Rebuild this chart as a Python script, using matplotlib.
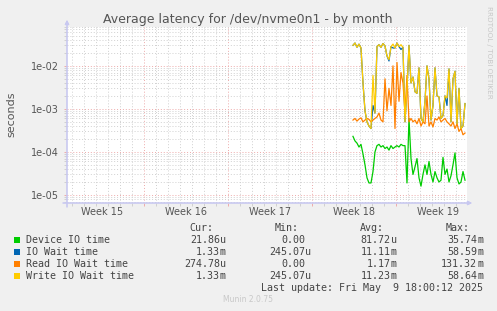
import numpy as np
import matplotlib.pyplot as plt
from matplotlib.patches import Rectangle
from matplotlib.ticker import FixedLocator, LogLocator, NullFormatter

W, H = 497, 311

# time axis in days from the left edge of the graph
t_start = 23.83
t_step = 1 / 6  # 4 hour samples
x_max = 33.33
week_lines = [6.42, 13.42, 20.42, 27.42]
week_labels = ["Week 15", "Week 16", "Week 17", "Week 18", "Week 19"]

# latency values in milliseconds
device_io = [0.23, 0.18, 0.16, 0.13, 0.15, 0.09, 0.05, 0.025, 0.019, 0.019,
             0.035, 0.1, 0.14, 0.15, 0.13, 0.14, 0.12, 0.13, 0.11, 0.14,
             0.12, 0.13, 0.14, 0.13, 0.15, 0.14, 0.14, 0.019, 0.6,
             0.07, 0.03, 0.045, 0.07, 0.025, 0.016, 0.03, 0.05, 0.03, 0.06,
             0.03, 0.02, 0.035, 0.025, 0.02, 0.022, 0.075, 0.03, 0.04, 0.02,
             0.028, 0.05, 0.095, 0.025, 0.018, 0.02, 0.035, 0.022]
io_wait = [30, 34, 27, 32, 26, 4, 0.9, 0.5, 0.4, 0.35,
           1.2, 0.8, 28, 31, 27, 33, 29, 17, 13, 28,
           26, 26, 34, 28, 24, 27, 0.5, 3, 30, 4,
           5.5, 2.5, 2.3, 9, 0.6, 0.5, 1.5, 10, 5, 0.55,
           1.2, 9, 2, 1.9, 0.6, 0.7, 2, 1.2, 8.5, 0.5,
           5, 7.5, 0.45, 3, 0.35, 0.4, 1.33]
read_wait = [0.55, 0.6, 0.52, 0.58, 0.62, 0.5, 0.55, 0.6, 0.57, 0.5,
             0.55, 0.6, 0.65, 0.8, 0.55, 0.5, 5, 0.9, 3, 1.2,
             10, 0.35, 12, 1.5, 7, 4, 0.8, 6, 0.5, 0.6,
             0.5, 0.55, 0.45, 0.6, 0.4, 0.5, 0.45, 2, 0.4, 0.5,
             0.38, 0.6, 0.55, 0.65, 0.5, 0.55, 0.6, 0.5, 0.45, 0.4,
             0.5, 0.35, 0.45, 0.3, 0.35, 0.25, 0.275]
write_wait = [30, 34, 27, 32, 26, 4, 0.9, 0.5, 0.4, 0.35,
              6, 0.8, 28, 31, 27, 33, 29, 17, 14, 28,
              32, 26, 34, 28, 31, 27, 0.5, 3, 30, 4,
              5.5, 2.5, 2.3, 9, 0.6, 0.5, 1.5, 10, 5, 0.55,
              1.2, 9, 2, 1.9, 0.6, 0.7, 2, 1.8, 8.5, 0.5,
              5, 7.5, 0.45, 3, 0.35, 0.4, 1.33]

names = ["Device IO time", "IO Wait time", "Read IO Wait time", "Write IO Wait time"]
colors = ["#00CC00", "#0066B3", "#FF8000", "#FFCC00"]
headers = ["Cur:", "Min:", "Avg:", "Max:"]
cur = ["21.86u", "1.33m", "274.78u", "1.33m"]
mins = ["0.00", "245.07u", "0.00", "245.07u"]
avgs = ["81.72u", "11.11m", "1.17m", "11.23m"]
maxs = ["35.74m", "58.59m", "131.32m", "58.64m"]

y_ticks = [1e-5, 1e-4, 1e-3, 1e-2]
y_labels = ["1e-05", "1e-04", "1e-03", "1e-02"]


def fx(x):
    return x / W


def fy(y):
    return 1 - y / H


fig = plt.figure(figsize=(W / 100, H / 100), dpi=100, facecolor="#F0F0F0")
ax = fig.add_axes([fx(67), fy(203), (467 - 67) / W, (203 - 27) / H])
ax.set_facecolor("white")
for s in ax.spines.values():
    s.set_visible(False)

ax.set_yscale("log")
ax.set_xlim(0, x_max)
ax.set_ylim(6.5e-6, 0.08)

t = t_start + t_step * np.arange(len(device_io))
for vals, c in zip([device_io, io_wait, read_wait, write_wait], colors):
    ax.plot(t, np.array(vals) / 1000, color=c, lw=0.9)

# grid
ax.xaxis.set_major_locator(FixedLocator(week_lines))
ax.xaxis.set_minor_locator(FixedLocator(np.arange(week_lines[0] % 1, x_max, 1)))
ax.set_yticks(y_ticks, y_labels)
ax.yaxis.set_minor_locator(LogLocator(base=10, subs=np.arange(2, 10)))
ax.yaxis.set_minor_formatter(NullFormatter())
dot = (0, (1, 2))
ax.grid(which="major", color="#eeaaaa", ls=dot, lw=0.7)
ax.grid(which="minor", color="#d0d0d0", ls=dot, lw=0.7)
ax.set_axisbelow(True)
ax.tick_params(axis="x", which="both", labelbottom=False)
ax.tick_params(which="major", color="#eeaaaa", length=2, width=0.7)
ax.tick_params(which="minor", color="#d0d0d0", length=2, width=0.7)
ax.tick_params(axis="y", labelsize=7, labelcolor="#555555", pad=3.7)

for i, lab in enumerate(week_labels):
    ax.text(week_lines[0] - 3.5 + 7 * i, -0.051, lab, transform=ax.get_xaxis_transform(),
            ha="center", va="center", fontsize=7, color="#555555")

# axis arrows
arrow = dict(arrowstyle="-|>", color="#c8c8f0", lw=0.8, mutation_scale=6,
             shrinkA=0, shrinkB=0)
fig.add_artist(ax.annotate("", xy=(fx(67), fy(20)), xytext=(fx(67), fy(207)),
                           xycoords="figure fraction", textcoords="figure fraction",
                           arrowprops=arrow, annotation_clip=False))
fig.add_artist(ax.annotate("", xy=(fx(472), fy(203)), xytext=(fx(63), fy(203)),
                           xycoords="figure fraction", textcoords="figure fraction",
                           arrowprops=arrow, annotation_clip=False))

fig.text(fx(248), fy(19), "Average latency for /dev/nvme0n1 - by month",
         ha="center", va="center", fontsize=9, color="#555555")
fig.text(fx(11.5), fy(114), "seconds", rotation=90, ha="center", va="center",
         fontsize=8, color="#555555")
fig.text(fx(489), fy(6), "RRDTOOL / TOBI OETIKER", rotation=270, ha="center", va="top",
         fontsize=5.2, color="#c8c8c8")

# legend
mono = dict(family="DejaVu Sans Mono", fontsize=7.2, color="#444444", va="center")
num_ends = [220, 305.5, 390.7, 477]
for h, xe in zip(headers, num_ends):
    fig.text(fx(xe - 7), fy(228), h, ha="right", **mono)
for i, name in enumerate(names):
    yr = 240 + 12 * i
    fig.add_artist(Rectangle((fx(14), fy(yr + 3)), 6 / W, 6 / H, transform=fig.transFigure,
                             facecolor=colors[i], edgecolor="none"))
    fig.text(fx(26), fy(yr), name, ha="left", **mono)
    for col, xe in zip([cur, mins, avgs, maxs], num_ends):
        val = col[i]
        if val[-1] in "um":
            fig.text(fx(xe), fy(yr), val[:-1], ha="right", **mono)
            fig.text(fx(xe), fy(yr), val[-1], ha="left", **mono)
        else:
            fig.text(fx(xe), fy(yr), val, ha="right", **mono)
fig.text(fx(483), fy(288), "Last update: Fri May  9 18:00:12 2025", ha="right", **mono)
fig.text(fx(248), fy(300), "Munin 2.0.75", ha="center", va="center", fontsize=5.5,
         color="#c8c8c8")

fig.savefig("out.png", dpi=100, facecolor=fig.get_facecolor())
